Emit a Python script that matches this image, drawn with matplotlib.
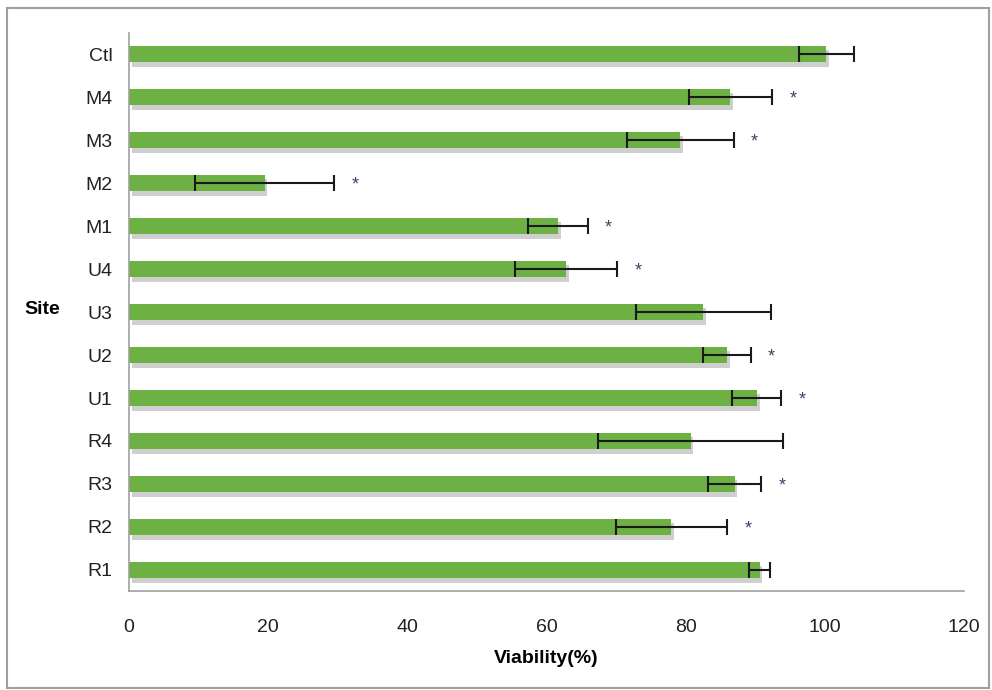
import matplotlib.pyplot as plt
import matplotlib.patheffects as pe
from matplotlib.patches import Rectangle

# data (bottom to top)
sites = ['R1', 'R2', 'R3', 'R4', 'U1', 'U2', 'U3', 'U4', 'M1', 'M2', 'M3', 'M4', 'Ctl']
viability = [90.6, 77.9, 87.0, 80.7, 90.2, 85.9, 82.5, 62.8, 61.6, 19.5, 79.2, 86.4, 100.2]
errors = [1.5, 8.0, 3.8, 13.3, 3.5, 3.4, 9.7, 7.3, 4.3, 10.0, 7.7, 6.0, 4.0]
significant = [False, True, True, False, True, True, False, True, True, True, True, True, False]
xticks = [0, 20, 40, 60, 80, 100, 120]

plt.rcParams['font.family'] = ['Liberation Sans', 'DejaVu Sans']

fig = plt.figure(figsize=(9.92, 6.90), dpi=100)
ax = fig.add_axes([0.130, 0.1428, 0.842, 0.810])

ypos = list(range(len(sites)))
bars = ax.barh(ypos, viability, height=0.39, color='#6DB043', zorder=2)
for b in bars:
    b.set_path_effects([pe.SimplePatchShadow(offset=(2, -3), shadow_rgbFace='#888888', alpha=0.4),
                        pe.Normal()])

ax.errorbar(viability, ypos, xerr=errors, fmt='none', ecolor='#1a1a1a',
            elinewidth=1.5, capsize=6, capthick=1.5, zorder=3)

for y, v, e, s in zip(ypos, viability, errors, significant):
    if s:
        ax.text(v + e + 3, y - 0.05, '*', ha='center', va='center',
                fontsize=13, color='#3c4466', zorder=4)

ax.set_xlim(0, 120)
ax.set_ylim(-0.5, len(sites) - 0.5)
ax.set_xticks(xticks)
ax.set_yticks(ypos)
ax.set_yticklabels(sites)
ax.tick_params(axis='both', length=0, labelsize=14, colors='#222222')
ax.tick_params(axis='x', pad=20)
ax.tick_params(axis='y', pad=12)

for side in ['top', 'right']:
    ax.spines[side].set_visible(False)
ax.spines['left'].set_color('#a0a0a0')
ax.spines['bottom'].set_color('#a0a0a0')
ax.spines['left'].set_linewidth(1.2)
ax.spines['bottom'].set_linewidth(1.2)

ax.set_xlabel('Viability(%)', fontsize=14, fontweight='bold', labelpad=10)
fig.text(0.025, 0.551, 'Site', fontsize=14, fontweight='bold', ha='left', va='center')

# outer chart frame
fig.patches.append(Rectangle((0.007, 0.003), 0.99, 0.985, transform=fig.transFigure,
                             fill=False, edgecolor='#a0a0a0', linewidth=1.5))

plt.savefig('out.png', dpi=100)
plt.close()
